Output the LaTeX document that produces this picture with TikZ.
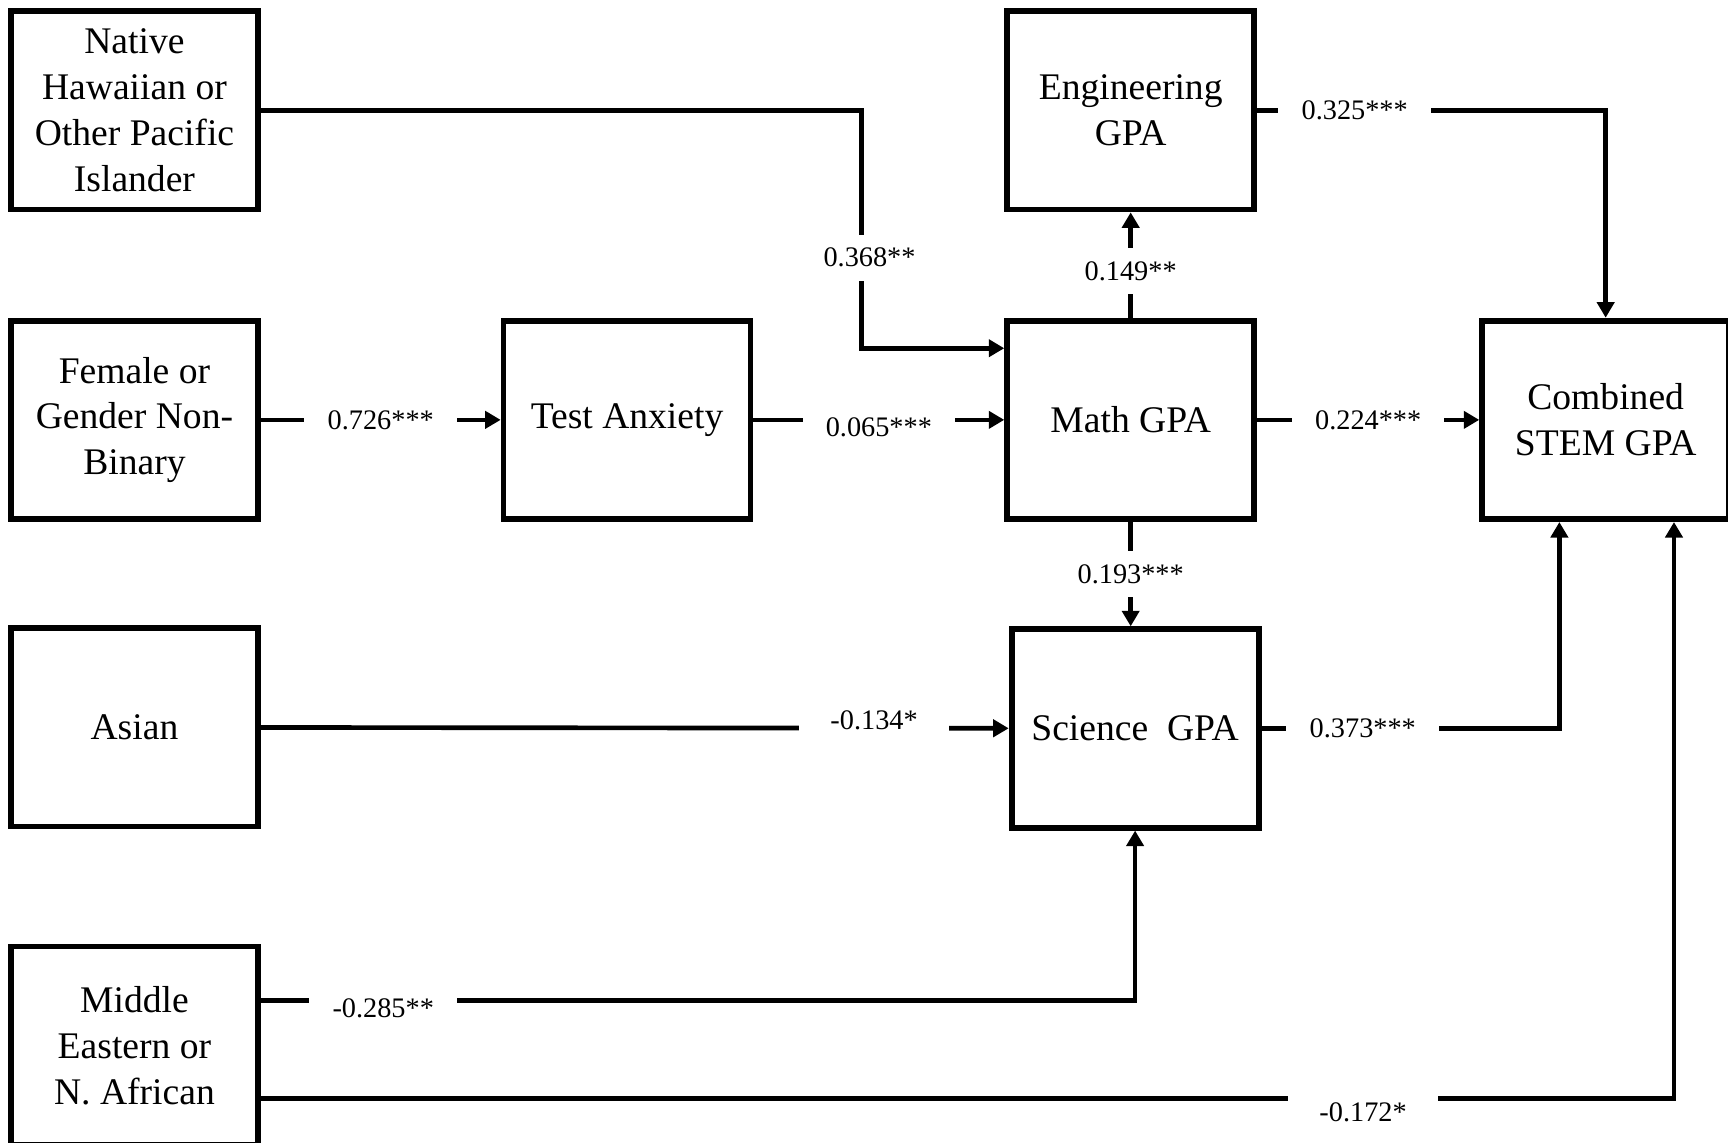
\documentclass[tikz,border=0pt]{standalone}
\usepackage{fontspec}
\setmainfont{Liberation Serif}
\usetikzlibrary{arrows.meta}

\tikzset{
  box/.style={draw, line width=1.5pt, minimum width=2.24cm, minimum height=1.8cm,
    align=center, inner sep=2pt, font=\fontsize{9.7}{11.8}\selectfont},
  conn/.style={line width=1.2pt, -{Triangle[length=4pt,width=4.4pt]}},
  coef/.style={fill=white, inner xsep=6pt, inner ysep=3.5pt, font=\fontsize{7.3}{8}\selectfont},
}

\begin{document}
\begin{tikzpicture}[x=0.01cm, y=-0.01cm]
\useasboundingbox (0,0) rectangle (1568,1037);
\clip (0,0) rectangle (1568,1037);
\fill[white] (0,0) rectangle (1568,1037);
% predictors
\node[box] (nhpi) at (122,100) {Native\\Hawaiian or\\Other Pacific\\Islander};
\node[box] (fem) at (122,381) {Female or\\Gender Non-\\Binary};
\node[box] (asian) at (122,660) {Asian};
\node[box] (mena) at (122,949) {Middle\\Eastern or\\N. African};
% mediators and outcomes
\node[box] (anx) at (569,381) {Test Anxiety};
\node[box] (eng) at (1026,100) {Engineering\\GPA};
\node[box] (math) at (1026,381) {Math GPA};
\node[box] (sci) at (1030,661) {Science~ GPA};
\node[box] (stem) at (1457,381) {Combined\\STEM GPA};
% bends
\coordinate (k1) at (782,100);
\coordinate (k2) at (782,316);
\coordinate (k3) at (1415,660);
\coordinate (k4) at (1030,908);
\coordinate (k5) at (1519,997);
% paths
\draw[conn] (fem) -- node[coef]{0.726***} (anx);
\draw[conn] (anx) -- node[coef, yshift=-2pt]{0.065***} (math);
\draw[conn] (nhpi.east) -- (k1) -- node[coef, pos=0.62, xshift=2pt]{0.368**} (k2) -- (k2 -| math.west);
\draw[conn] (math) -- node[coef, yshift=-1.5pt]{0.149**} (eng);
\draw[conn] (math.south) -- node[coef]{0.193***} (math.south |- sci.north);
\draw[conn] (eng.east) -| node[coef, pos=0.14]{0.325***} (stem.north);
\draw[conn] (math) -- node[coef]{0.224***} (stem);
\draw[conn] (asian) -- node[coef, pos=0.82, yshift=2pt, inner xsep=8pt]{-0.134*} (sci);
\draw[conn] (sci.east) -| node[coef, pos=0.17]{0.373***} (k3 |- stem.south);
\draw[conn] (mena.east |- k4) -- node[coef, pos=0.14, yshift=-2pt]{-0.285**} (k4) -- (sci);
\draw[conn] (mena.east |- k5) -- node[coef, pos=0.78, yshift=-3.5pt, inner xsep=8pt]{-0.172*} (k5) -- (k5 |- stem.south);
\end{tikzpicture}
\end{document}
